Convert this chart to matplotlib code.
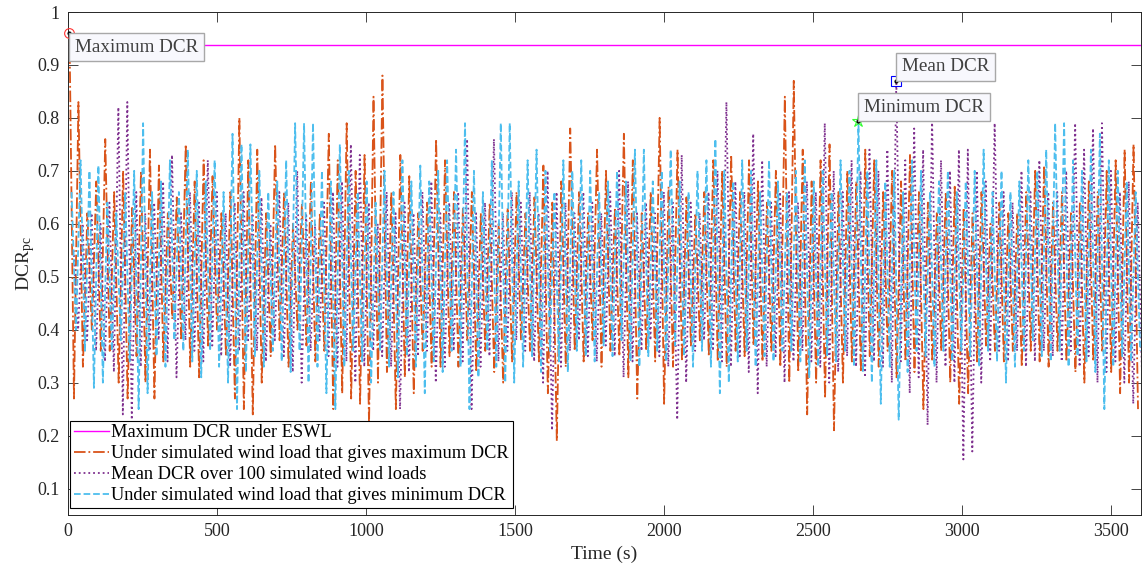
import numpy as np
import matplotlib
matplotlib.use("Agg")
import matplotlib.pyplot as plt

plt.rcParams['font.family'] = ['Liberation Serif', 'DejaVu Serif']
plt.rcParams['mathtext.fontset'] = 'custom'
plt.rcParams['mathtext.rm'] = 'Liberation Serif'
plt.rcParams['mathtext.it'] = 'Liberation Serif:italic'

# ---------------- data ----------------
step = 30.0          # seconds per envelope bin
eswl_max = 0.938     # Maximum DCR under ESWL

# Series 1: under simulated wind load that gives maximum DCR (peaks / troughs per bin)
max_hi = [0.96, 0.83, 0.62, 0.68, 0.76, 0.66, 0.70, 0.63, 0.70, 0.74,
          0.71, 0.62, 0.65, 0.75, 0.68, 0.72, 0.69, 0.62, 0.66, 0.80,
          0.72, 0.74, 0.62, 0.75, 0.66, 0.60, 0.64, 0.68, 0.62, 0.77,
          0.72, 0.79, 0.70, 0.73, 0.84, 0.88, 0.66, 0.73, 0.69, 0.62,
          0.64, 0.76, 0.72, 0.66, 0.63, 0.66, 0.62, 0.64, 0.60, 0.63,
          0.66, 0.62, 0.65, 0.71, 0.64, 0.68, 0.78, 0.66, 0.62, 0.74,
          0.70, 0.63, 0.77, 0.72, 0.62, 0.66, 0.80, 0.67, 0.74, 0.65,
          0.62, 0.66, 0.72, 0.70, 0.73, 0.66, 0.72, 0.68, 0.64, 0.70,
          0.84, 0.87, 0.74, 0.68, 0.72, 0.75, 0.66, 0.70, 0.68, 0.74,
          0.72, 0.66, 0.70, 0.68, 0.73, 0.66, 0.64, 0.62, 0.66, 0.67,
          0.63, 0.62, 0.66, 0.60, 0.64, 0.62, 0.62, 0.66, 0.70, 0.71,
          0.64, 0.66, 0.62, 0.64, 0.68, 0.66, 0.70, 0.72, 0.74, 0.75]
max_lo = [0.27, 0.33, 0.40, 0.36, 0.36, 0.30, 0.27, 0.35, 0.30, 0.27,
          0.34, 0.42, 0.38, 0.33, 0.31, 0.37, 0.40, 0.35, 0.27, 0.25,
          0.24, 0.30, 0.35, 0.38, 0.33, 0.40, 0.37, 0.34, 0.36, 0.25,
          0.28, 0.27, 0.26, 0.22, 0.30, 0.32, 0.25, 0.31, 0.28, 0.36,
          0.33, 0.33, 0.35, 0.33, 0.38, 0.32, 0.36, 0.32, 0.30, 0.34,
          0.38, 0.36, 0.34, 0.28, 0.19, 0.33, 0.36, 0.34, 0.38, 0.33,
          0.36, 0.35, 0.31, 0.27, 0.36, 0.34, 0.26, 0.33, 0.34, 0.37,
          0.38, 0.35, 0.34, 0.33, 0.36, 0.35, 0.37, 0.34, 0.36, 0.33,
          0.30, 0.32, 0.24, 0.30, 0.27, 0.21, 0.30, 0.34, 0.32, 0.35,
          0.33, 0.36, 0.31, 0.34, 0.32, 0.25, 0.34, 0.36, 0.30, 0.26,
          0.28, 0.34, 0.37, 0.36, 0.34, 0.36, 0.33, 0.36, 0.34, 0.33,
          0.36, 0.34, 0.32, 0.30, 0.34, 0.36, 0.32, 0.28, 0.30, 0.25]

# Series 2: mean DCR over 100 simulated wind loads
mean_hi = [0.55, 0.60, 0.62, 0.60, 0.64, 0.82, 0.83, 0.66, 0.62, 0.64,
           0.68, 0.73, 0.62, 0.66, 0.64, 0.72, 0.66, 0.62, 0.64, 0.66,
           0.62, 0.65, 0.60, 0.66, 0.64, 0.70, 0.62, 0.60, 0.64, 0.66,
           0.68, 0.75, 0.73, 0.64, 0.60, 0.66, 0.62, 0.64, 0.62, 0.66,
           0.68, 0.62, 0.64, 0.66, 0.76, 0.62, 0.64, 0.76, 0.62, 0.66,
           0.64, 0.66, 0.62, 0.70, 0.66, 0.64, 0.62, 0.66, 0.64, 0.62,
           0.66, 0.70, 0.68, 0.62, 0.64, 0.62, 0.66, 0.64, 0.73, 0.64,
           0.62, 0.66, 0.70, 0.83, 0.68, 0.66, 0.77, 0.72, 0.64, 0.66,
           0.66, 0.64, 0.68, 0.66, 0.79, 0.70, 0.66, 0.72, 0.70, 0.74,
           0.70, 0.74, 0.87, 0.72, 0.78, 0.74, 0.80, 0.72, 0.70, 0.74,
           0.74, 0.70, 0.68, 0.79, 0.66, 0.64, 0.70, 0.66, 0.72, 0.66,
           0.66, 0.70, 0.79, 0.74, 0.78, 0.79, 0.70, 0.66, 0.68, 0.64]
mean_lo = [0.40, 0.38, 0.36, 0.34, 0.32, 0.24, 0.23, 0.33, 0.36, 0.38,
           0.34, 0.31, 0.38, 0.36, 0.34, 0.37, 0.35, 0.33, 0.36, 0.38,
           0.36, 0.34, 0.38, 0.35, 0.32, 0.30, 0.36, 0.38, 0.35, 0.33,
           0.34, 0.30, 0.33, 0.36, 0.35, 0.33, 0.25, 0.32, 0.35, 0.36,
           0.30, 0.33, 0.36, 0.34, 0.25, 0.33, 0.35, 0.34, 0.36, 0.38,
           0.36, 0.34, 0.30, 0.21, 0.33, 0.36, 0.38, 0.35, 0.34, 0.37,
           0.35, 0.31, 0.34, 0.36, 0.38, 0.35, 0.33, 0.23, 0.30, 0.36,
           0.38, 0.36, 0.34, 0.33, 0.35, 0.32, 0.28, 0.33, 0.35, 0.30,
           0.34, 0.36, 0.34, 0.33, 0.30, 0.32, 0.35, 0.33, 0.31, 0.34,
           0.33, 0.30, 0.34, 0.28, 0.31, 0.22, 0.30, 0.33, 0.30, 0.155,
           0.17, 0.30, 0.34, 0.36, 0.34, 0.36, 0.33, 0.34, 0.36, 0.35,
           0.34, 0.36, 0.33, 0.35, 0.30, 0.32, 0.34, 0.30, 0.26, 0.30]

# Series 3: under simulated wind load that gives minimum DCR
min_hi = [0.66, 0.72, 0.70, 0.71, 0.64, 0.62, 0.66, 0.70, 0.79, 0.66,
          0.68, 0.72, 0.66, 0.74, 0.70, 0.68, 0.72, 0.66, 0.77, 0.75,
          0.75, 0.70, 0.66, 0.68, 0.72, 0.79, 0.79, 0.79, 0.70, 0.68,
          0.75, 0.70, 0.66, 0.68, 0.64, 0.70, 0.66, 0.72, 0.68, 0.71,
          0.68, 0.70, 0.72, 0.74, 0.79, 0.70, 0.66, 0.72, 0.79, 0.79,
          0.68, 0.72, 0.74, 0.70, 0.66, 0.72, 0.70, 0.72, 0.70, 0.66,
          0.68, 0.70, 0.68, 0.74, 0.74, 0.68, 0.70, 0.74, 0.68, 0.66,
          0.70, 0.72, 0.76, 0.70, 0.68, 0.72, 0.70, 0.66, 0.72, 0.68,
          0.66, 0.70, 0.72, 0.68, 0.70, 0.66, 0.72, 0.70, 0.794, 0.70,
          0.72, 0.68, 0.70, 0.66, 0.72, 0.70, 0.66, 0.68, 0.70, 0.66,
          0.68, 0.70, 0.74, 0.66, 0.70, 0.66, 0.68, 0.72, 0.70, 0.74,
          0.79, 0.79, 0.72, 0.70, 0.74, 0.77, 0.72, 0.70, 0.68, 0.66]
min_lo = [0.40, 0.36, 0.29, 0.30, 0.36, 0.38, 0.34, 0.25, 0.28, 0.35,
          0.33, 0.38, 0.36, 0.34, 0.31, 0.36, 0.33, 0.30, 0.25, 0.32,
          0.35, 0.33, 0.36, 0.34, 0.32, 0.36, 0.30, 0.33, 0.28, 0.25,
          0.33, 0.36, 0.34, 0.30, 0.36, 0.33, 0.31, 0.35, 0.33, 0.28,
          0.34, 0.32, 0.36, 0.33, 0.25, 0.31, 0.36, 0.33, 0.30, 0.30,
          0.33, 0.35, 0.32, 0.36, 0.34, 0.32, 0.36, 0.35, 0.34, 0.37,
          0.35, 0.38, 0.34, 0.33, 0.35, 0.36, 0.34, 0.37, 0.35, 0.33,
          0.36, 0.33, 0.28, 0.30, 0.34, 0.36, 0.33, 0.35, 0.34, 0.36,
          0.36, 0.34, 0.31, 0.33, 0.35, 0.34, 0.36, 0.33, 0.32, 0.30,
          0.26, 0.33, 0.23, 0.32, 0.36, 0.35, 0.33, 0.36, 0.34, 0.36,
          0.35, 0.33, 0.36, 0.34, 0.30, 0.33, 0.36, 0.38, 0.35, 0.34,
          0.36, 0.33, 0.35, 0.34, 0.32, 0.25, 0.33, 0.35, 0.34, 0.36]

# time (s) of the peak inside each bin, per series
peak_offset = {'max': 5.0, 'mean': 19.0, 'min': 12.0}

legend_labels = ["Maximum DCR under ESWL",
                 "Under simulated wind load that gives maximum DCR",
                 "Mean DCR over 100 simulated wind loads",
                 "Under simulated wind load that gives minimum DCR"]
tip_labels = ["Maximum DCR", "Mean DCR", "Minimum DCR"]


def zigzag(hi, lo, off):
    k = np.arange(len(hi))
    t = np.column_stack([k * step + off, k * step + off + step / 2]).ravel()
    v = np.column_stack([hi, lo]).ravel()
    return t, v


C_MAX = '#D95319'
C_MEAN = '#7E2F8E'
C_MIN = '#4DBEEE'
C_ESWL = '#FF00FF'
AX_C = '#262626'

fig = plt.figure(figsize=(11.43, 5.66), dpi=100)
ax = fig.add_axes([68 / 1143, 51 / 566, 1073 / 1143, 503 / 566])

t1, v1 = zigzag(max_hi, max_lo, peak_offset['max'])
t2, v2 = zigzag(mean_hi, mean_lo, peak_offset['mean'])
t3, v3 = zigzag(min_hi, min_lo, peak_offset['min'])

h0 = ax.axhline(eswl_max, color=C_ESWL, lw=1.0, zorder=1)
h1, = ax.plot(t1, v1, color=C_MAX, ls='-.', lw=1.3, zorder=2)
h2, = ax.plot(t2, v2, color=C_MEAN, ls=':', lw=1.3, zorder=3)
h3, = ax.plot(t3, v3, color=C_MIN, ls='--', lw=1.3, zorder=4)

ax.set_xlim(0, 3600)
ax.set_ylim(0.05, 1.0)
ax.set_xticks(np.arange(0, 3501, 500))
ax.set_yticks(np.round(np.arange(0.1, 1.01, 0.1), 1))
ax.set_yticklabels(['0.1', '0.2', '0.3', '0.4', '0.5', '0.6', '0.7', '0.8', '0.9', '1'])
ax.tick_params(direction='in', top=True, right=True, length=7.5, width=0.6,
               colors=AX_C, labelsize=13, pad=6)
for s in ax.spines.values():
    s.set_color(AX_C)
    s.set_linewidth(0.7)

ax.set_xlabel('Time (s)', fontsize=14, color=AX_C, labelpad=4)
ax.set_ylabel(r'DCR$_{\mathrm{pc}}$', fontsize=14, color=AX_C, labelpad=0)

leg = ax.legend([h0, h1, h2, h3], legend_labels, loc='lower left',
                bbox_to_anchor=(0.002, 0.014), fontsize=13.2, frameon=True,
                fancybox=False, edgecolor='black', framealpha=1,
                handlelength=1.9, handletextpad=0.15, labelspacing=0.22,
                borderpad=0.2, borderaxespad=0.0)
leg.get_frame().set_linewidth(0.8)
leg.set_zorder(10)

# data tips on the extreme points of each series
tips = [(t1, v1, 'o', '#ff3030', (4, -4), 'top', tip_labels[0], 7),
        (t2, v2, 's', '#0000ff', (4, 4), 'bottom', tip_labels[1], 7),
        (t3, v3, '*', '#30ff30', (4, 4), 'bottom', tip_labels[2], 9)]
for tt, vv, mk, mc, off, va, lab, ms in tips:
    i = int(np.argmax(vv))
    ax.plot(tt[i], vv[i], marker=mk, ms=ms, mfc='none', mec=mc, mew=0.8,
            zorder=11, clip_on=False)
    ax.plot(tt[i], vv[i], marker='o', ms=2, color='black', zorder=12, clip_on=False)
    ax.annotate(lab, xy=(tt[i], vv[i]), xytext=off, textcoords='offset points',
                ha='left', va=va, fontsize=13.8, color='#404040', zorder=13,
                bbox=dict(boxstyle='square,pad=0.3', fc='#f8f8fd', ec='#a8a8a8', lw=1.0))

fig.savefig('out.png', dpi=100)
